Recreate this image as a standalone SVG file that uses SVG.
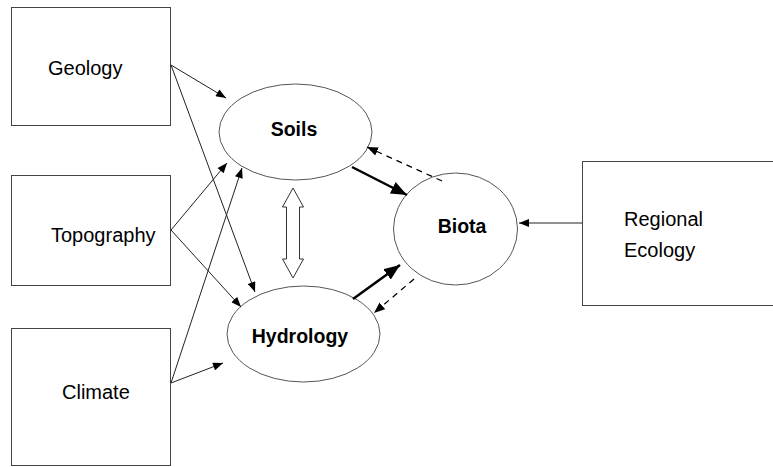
<svg xmlns="http://www.w3.org/2000/svg" width="773" height="467" viewBox="0 0 773 467">
<defs>
<style>
.box{fill:#fff;stroke:#444;stroke-width:1}
.ell{fill:#fff;stroke:#555;stroke-width:1}
.lbl{font-family:"Liberation Sans",Arial,sans-serif;font-size:20px;fill:#000}
.blbl{font-family:"Liberation Sans",Arial,sans-serif;font-size:19.5px;font-weight:bold;fill:#000}
.thin{stroke:#222;stroke-width:1;fill:none;marker-end:url(#ah)}
.thick{stroke:#000;stroke-width:2.5;fill:none;marker-end:url(#ahb)}
.dash{stroke:#000;stroke-width:1.3;fill:none;stroke-dasharray:6,5;marker-end:url(#ahd)}
</style>
<marker id="ah" viewBox="0 0 10 8" refX="10" refY="4" markerWidth="11" markerHeight="8" orient="auto" markerUnits="userSpaceOnUse"><path d="M0,0 L10,4 L0,8 Z" fill="#000"/></marker>
<marker id="ahb" viewBox="0 0 10 8" refX="10" refY="4" markerWidth="16" markerHeight="13" orient="auto" markerUnits="userSpaceOnUse"><path d="M0,0 L10,4 L0,8 Z" fill="#000"/></marker>
<marker id="ahd" viewBox="0 0 10 8" refX="10" refY="4" markerWidth="11" markerHeight="9" orient="auto" markerUnits="userSpaceOnUse"><path d="M0,0 L10,4 L0,8 Z" fill="#000"/></marker>
</defs>
<rect width="773" height="467" fill="#fff"/>
<g id="geology"><rect class="box" x="11.5" y="7.5" width="159" height="118"/><text class="lbl" x="48" y="75">Geology</text></g>
<g id="topography"><rect class="box" x="11.5" y="175.5" width="159" height="110"/><text class="lbl" x="51" y="242">Topography</text></g>
<g id="climate"><rect class="box" x="11.5" y="328.5" width="159" height="137"/><text class="lbl" x="62" y="399">Climate</text></g>
<g id="regional-ecology"><rect class="box" x="582.5" y="161.5" width="200" height="144"/><text class="lbl" x="624" y="226">Regional</text><text class="lbl" x="624" y="257">Ecology</text></g>
<g id="soils"><ellipse class="ell" cx="295.5" cy="132" rx="76.5" ry="48"/><text class="blbl" x="294" y="136" text-anchor="middle">Soils</text></g>
<g id="hydrology"><ellipse class="ell" cx="303.5" cy="334" rx="76.5" ry="48"/><text class="blbl" x="300" y="343" text-anchor="middle">Hydrology</text></g>
<g id="biota"><ellipse class="ell" cx="455.5" cy="229" rx="62" ry="56"/><text class="blbl" x="462" y="233" text-anchor="middle">Biota</text></g>
<g id="connectors">
<line class="thin" x1="171" y1="65" x2="226" y2="98"/>
<line class="thin" x1="171" y1="65" x2="255" y2="292"/>
<line class="thin" x1="171" y1="230" x2="227" y2="163"/>
<line class="thin" x1="171" y1="230" x2="241" y2="307"/>
<line class="thin" x1="171" y1="383" x2="242" y2="168"/>
<line class="thin" x1="171" y1="383" x2="223" y2="363"/>
<line class="thin" x1="582" y1="223" x2="519" y2="223"/>
<line class="thick" x1="352" y1="167" x2="407" y2="195"/>
<line class="thick" x1="353" y1="299" x2="400" y2="265"/>
<line class="dash" x1="442" y1="181" x2="367" y2="147"/>
<line class="dash" x1="414" y1="279" x2="374" y2="313"/>
<path d="M293,188 L303.5,207 L299.5,207 L299.5,259 L303.5,259 L293,278 L282.5,259 L286.5,259 L286.5,207 L282.5,207 Z" fill="#fff" stroke="#333" stroke-width="1"/>
</g>
</svg>
